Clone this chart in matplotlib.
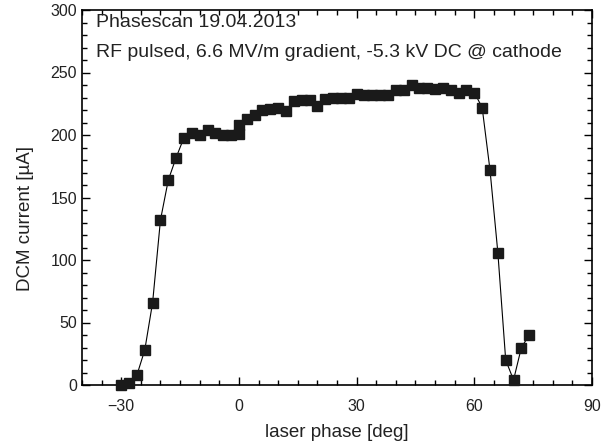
import matplotlib
matplotlib.use("Agg")
import matplotlib.pyplot as plt
from matplotlib.ticker import MultipleLocator

plt.rcParams['font.family'] = ['Liberation Sans', 'DejaVu Sans']

# laser phase [deg] and DCM current [uA]
phase = [-30, -28, -26, -24, -22, -20, -18, -16, -14, -12, -10, -8, -6, -4, -2, 0, 0,
         2, 4, 6, 8, 10, 12, 14, 16, 18, 20, 22, 24, 26, 28, 30, 32, 34, 36, 38,
         40, 42, 44, 46, 48, 50, 52, 54, 56, 58, 60, 62, 64, 66, 68, 70, 72, 74]
current = [0, 2, 8, 28, 66, 132, 164, 182, 198, 202, 200, 204, 202, 200, 200, 201, 208,
           213, 216, 220, 221, 222, 219, 227, 228, 228, 223, 229, 230, 230, 230, 233, 232, 232, 232, 232,
           236, 236, 240, 238, 238, 237, 238, 236, 234, 236, 234, 222, 172, 106, 20, 4, 30, 40]

title_lines = ["Phasescan 19.04.2013",
               "RF pulsed, 6.6 MV/m gradient, -5.3 kV DC @ cathode"]

fig = plt.figure(figsize=(6.08, 4.42), dpi=100)
ax = fig.add_axes([82 / 608, 57 / 442, 510 / 608, 375 / 442])

ax.plot(phase, current, color='black', lw=0.8, marker='s', ms=6.5,
        mfc='#1a1a1a', mec='#1a1a1a', clip_on=False, zorder=3)

ax.set_xlim(-40, 90)
ax.set_ylim(0, 300)
ax.xaxis.set_major_locator(MultipleLocator(30))
ax.xaxis.set_minor_locator(MultipleLocator(5))
ax.yaxis.set_major_locator(MultipleLocator(50))
ax.yaxis.set_minor_locator(MultipleLocator(10))
ax.tick_params(which='both', direction='in', top=True, right=True,
               width=1.0, colors='black', labelcolor='#222222', labelsize=11.5)
ax.tick_params(which='major', length=6)
ax.tick_params(which='minor', length=3.5)
ax.tick_params(axis='x', pad=10)
for s in ax.spines.values():
    s.set_linewidth(1.2)

ax.set_xlabel('laser phase [deg]', fontsize=13.5, color='#222222', labelpad=7)
ax.set_ylabel('DCM current [µA]', fontsize=13.5, color='#222222')
ax.yaxis.set_label_coords(-0.095, 0.445)

ax.text(0.028, 0.99, title_lines[0], transform=ax.transAxes, fontsize=14,
        va='top', ha='left', color='#222222')
ax.text(0.028, 0.91, title_lines[1], transform=ax.transAxes, fontsize=14,
        va='top', ha='left', color='#222222')

fig.savefig('out.png', dpi=100)
